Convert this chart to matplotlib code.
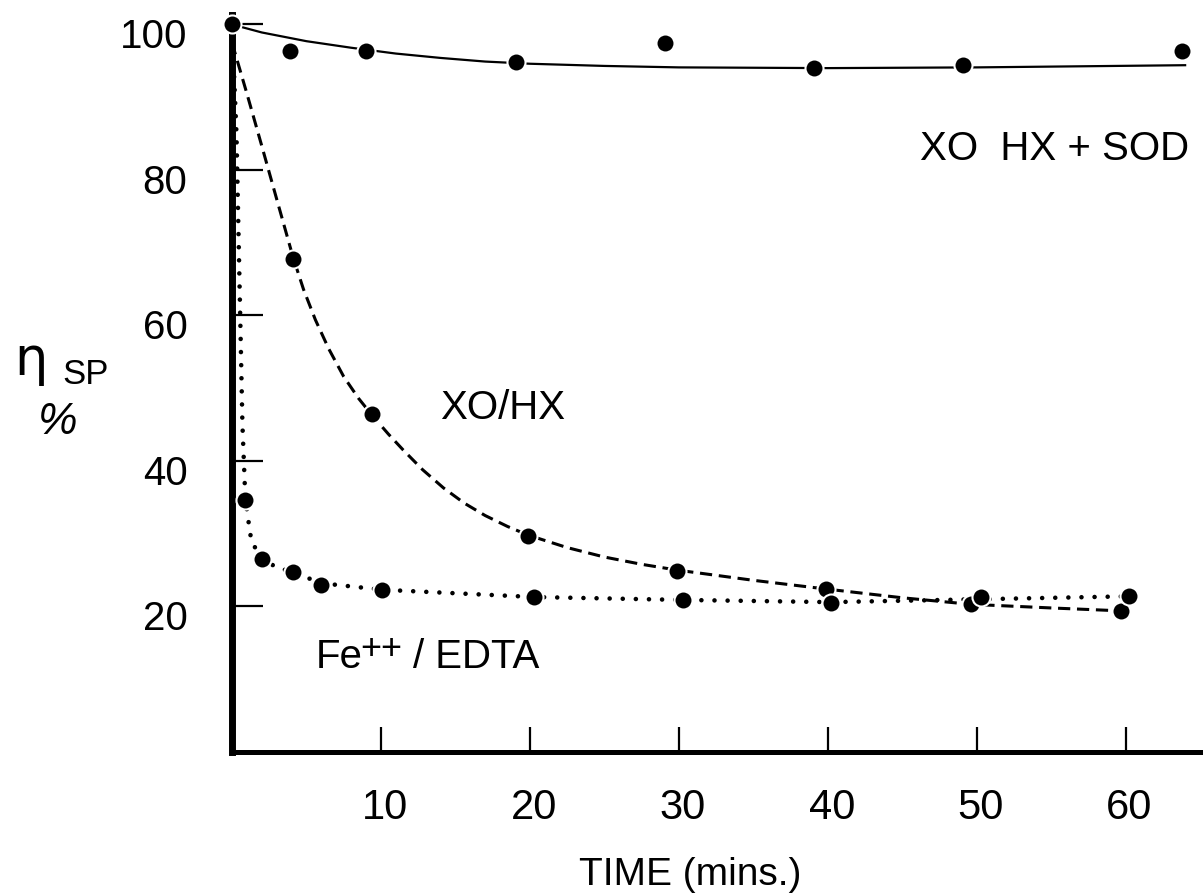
import matplotlib
matplotlib.use("Agg")
import matplotlib.pyplot as plt
from matplotlib import font_manager
from matplotlib.transforms import ScaledTranslation

# measured points (time in min, specific viscosity in %)
sod_t = [0, 3.9, 9.0, 19.1, 29.1, 39.1, 49.1, 63.8]
sod_v = [100, 96.4, 96.4, 94.8, 97.5, 94.0, 94.4, 96.4]

xo_t = [4.1, 9.4, 19.9, 29.9, 39.9, 49.6, 59.7]
xo_v = [67.8, 46.5, 29.7, 24.9, 22.4, 20.3, 19.4]

fe_t = [0.9, 2.0, 4.1, 6.0, 10.1, 20.3, 30.3, 40.2, 50.3, 60.2]
fe_v = [34.6, 26.5, 24.7, 22.9, 22.3, 21.3, 20.9, 20.5, 21.3, 21.4]

# hand-drawn curves through the points
sod_fit_t = [0, 2, 5, 8, 11, 14, 17, 20, 25, 30, 40, 50, 64]
sod_fit_v = [100, 98.9, 97.7, 96.8, 96.0, 95.4, 94.9, 94.6, 94.3, 94.1, 94.0, 94.1, 94.4]

xo_fit_t = [0, 1, 2, 3, 4.1, 4.8, 5.6, 6.5, 7.5, 8.5, 9.4, 10.5, 11.5, 12.8,
            14.2, 15.6, 17, 18.5, 19.9, 22.5, 25, 27.5, 29.9, 35, 39.9, 45,
            49.6, 55, 59.7]
xo_fit_v = [97.5, 90.5, 83.3, 76.0, 68.0, 63.6, 59.4, 55.4, 51.6, 48.6, 46.3,
            43.7, 41.5, 38.8, 36.3, 34.2, 32.5, 31.0, 29.8, 28.1, 26.8, 25.8,
            25.0, 23.6, 22.4, 21.2, 20.3, 19.8, 19.4]

fe_fit_t = [0, 0.3, 0.5, 0.7, 0.9, 1.3, 2.0, 3.0, 4.1, 6.0, 10.1, 20.3, 30.3,
            40.2, 50.3, 60.2]
fe_fit_v = [100, 85, 65, 45, 34.6, 29, 26.5, 25.4, 24.7, 23.2, 22.3, 21.3,
            20.9, 20.6, 21.0, 21.4]

xticks = [10, 20, 30, 40, 50, 60]
yticks = [20, 40, 60, 80, 100]

installed = {f.name for f in font_manager.fontManager.ttflist}
fam = [f for f in ["Liberation Sans Narrow", "Liberation Sans", "DejaVu Sans"] if f in installed]
plt.rcParams["font.family"] = fam

fig = plt.figure(figsize=(12.03, 8.96), dpi=100)
ax = fig.add_axes([232 / 1203, 144 / 896, 971 / 1203, 737 / 896])
ax.set_xlim(0, 65.2)
ax.set_ylim(0, 101.3)

# curves
ax.plot(sod_fit_t, sod_fit_v, color="black", lw=1.6)
ax.plot(xo_fit_t, xo_fit_v, color="black", lw=2.2, linestyle=(0, (4, 2.2)))
ax.plot(fe_fit_t, fe_fit_v, color="black", lw=3.3, linestyle=(0, (0.01, 2.85)),
        dash_capstyle="round")

# points
for t, v in [(sod_t, sod_v), (xo_t, xo_v), (fe_t, fe_v)]:
    ax.plot(t, v, "o", color="black", ms=13, mec="white", mew=1.5,
            clip_on=False, zorder=5)

for side in ["top", "right"]:
    ax.spines[side].set_visible(False)
ax.spines["left"].set_linewidth(5)
ax.spines["bottom"].set_linewidth(3.6)

ax.set_xticks(xticks)
ax.set_yticks(yticks)
ax.tick_params(axis="x", direction="in", length=18, width=1.6, pad=26, labelsize=30)
ax.tick_params(axis="y", direction="in", length=22, width=1.6, pad=32, labelsize=29)

shift_x = ScaledTranslation(0.04, 0, fig.dpi_scale_trans)
for lab in ax.get_xticklabels():
    lab.set_transform(lab.get_transform() + shift_x)
shift_y = ScaledTranslation(0, -0.09, fig.dpi_scale_trans)
for lab in ax.get_yticklabels():
    lab.set_transform(lab.get_transform() + shift_y)

# curve labels
ax.text(46.2, 81.4, "XO  HX + SOD", fontsize=29, va="baseline", ha="left")
ax.text(14.0, 45.8, "XO/HX", fontsize=29, va="baseline", ha="left")
ax.annotate("Fe", (5.6, 11.5), fontsize=29, va="baseline", ha="left")
ax.annotate("++", (5.6, 11.5), xytext=(32.5, 7), textcoords="offset points",
            fontsize=26, va="baseline", ha="left")
ax.annotate("/ EDTA", (5.6, 11.5), xytext=(70, 0), textcoords="offset points",
            fontsize=29, va="baseline", ha="left")

# axis titles
fig.text(690 / 1203, 1 - 875 / 896, "TIME (mins.)", fontsize=28, ha="center", va="center")
fig.text(31 / 1203, 1 - 360 / 896, "η", fontsize=38, ha="center", va="center",
         family="DejaVu Sans")
fig.text(86 / 1203, 1 - 375 / 896, "SP", fontsize=25, ha="center", va="center")
fig.text(58 / 1203, 1 - 422 / 896, "%", fontsize=32, ha="center", va="center",
         style="italic")

fig.savefig("out.png", dpi=100)
